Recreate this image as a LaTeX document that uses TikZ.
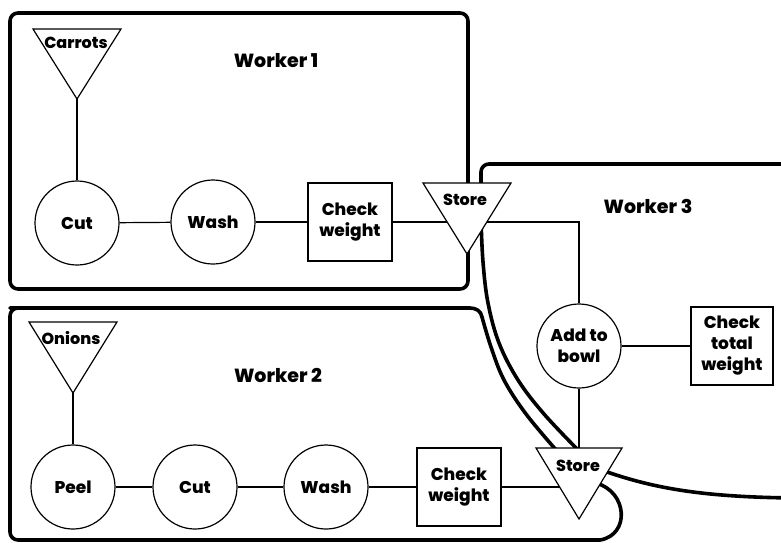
\documentclass[tikz,border=0pt]{standalone}
\usepackage{fontspec}
\setmainfont{Poppins}[BoldFont={Poppins ExtraBold}]
\begin{document}
\begin{tikzpicture}[x=1pt,y=-1pt,
  region/.style={line width=3.6pt, line join=round, line cap=round},
  conn/.style={line width=1.2pt},
  txt/.style={font=\bfseries\fontsize{17}{21}\selectfont},
  proc/.style={circle, draw, line width=1.2pt, minimum size=84pt, inner sep=0pt, fill=white, txt, align=center},
  chk/.style={rectangle, draw, line width=1.2pt, minimum width=84pt, minimum height=78pt, inner sep=0pt, fill=white, txt, align=center},
  tri/.style={draw, line width=1.2pt, fill=white, line join=miter},
  lbl/.style={font=\bfseries\fontsize{16}{19}\selectfont, inner sep=0pt, anchor=base},
  title/.style={font=\bfseries\fontsize{19}{23}\selectfont, inner sep=0pt, anchor=base}
]
\useasboundingbox (0,0) rectangle (781,542);

% process nodes
\node[proc] (cut1) at (77,223) {Cut};
\node[proc] (wash1) at (213,222) {Wash};
\node[chk] (cw1) at (350,222) {Check\\weight};
\node[proc] (peel) at (73,487) {Peel};
\node[proc] (cut2) at (195,487) {Cut};
\node[proc] (wash2) at (326,487) {Wash};
\node[chk] (cw2) at (459,487) {Check\\weight};
\node[proc] (add) at (579,346) {Add to\\bowl};
\node[chk, minimum width=82pt] (ctw) at (732,346) {Check\\total\\weight};

% triangle reference points
\coordinate (carrots-tip) at (77,99);
\coordinate (onions-tip) at (73,393);
\coordinate (s1c) at (467,222);
\coordinate (s2c) at (579,487);

% region borders
\draw[region, rounded corners=8pt] (10,13) rectangle (468,289);
\draw[region, rounded corners=8pt] (795,164) -- (481,164) -- (481,225);
\draw[region] plot[smooth, tension=0.6] coordinates {(481,220) (483,262) (488,303) (499,343) (518,380) (544,414) (580,452)};
\draw[region] (596,468) .. controls (650,488) and (700,497) .. (795,498);
\draw[region, rounded corners=8pt] (470,308) -- (18,308) -- (10,308) -- (10,540) -- (600,540);
\draw[region] (470,308) .. controls (476,308) and (481,311) .. (482,317);
\draw[region] plot[smooth, tension=0.6] coordinates {(482,317) (491,347) (504,380) (526,414) (557,451)};
\draw[region] (596,483) .. controls (628,492) and (630,535) .. (600,540);

% connectors
\draw[conn] (carrots-tip) -- (cut1);
\draw[conn] (cut1) -- (wash1);
\draw[conn] (wash1) -- (cw1);
\draw[conn] (cw1) -- (s1c);
\draw[conn] (s1c) -| (add.north);
\draw[conn] (add) -- (ctw);
\draw[conn] (add.south) -- (s2c);
\draw[conn] (onions-tip) -- (peel);
\draw[conn] (peel) -- (cut2);
\draw[conn] (cut2) -- (wash2);
\draw[conn] (wash2) -- (cw2);
\draw[conn] (cw2) -- (s2c);

% triangles
\draw[tri] (33,29) -- (121,29) -- (carrots-tip) -- cycle;
\draw[tri] (29,322) -- (117,322) -- (onions-tip) -- cycle;
\draw[tri] (423,183) -- (511,183) -- (467,254) -- cycle;
\draw[tri] (536,448) -- (622,448) -- (579,519) -- cycle;

% triangle labels
\node[lbl] (carrots) at (76,48) {Carrots};
\node[lbl] (onions) at (71,344) {Onions};
\node[lbl] (store1) at (465,205) {Store};
\node[lbl] (store2) at (578,471) {Store};

% titles
\node[title] (w1) at (276,67) {Worker 1};
\node[title] (w2) at (278,382) {Worker 2};
\node[title] (w3) at (648,213) {Worker 3};
\end{tikzpicture}
\end{document}
